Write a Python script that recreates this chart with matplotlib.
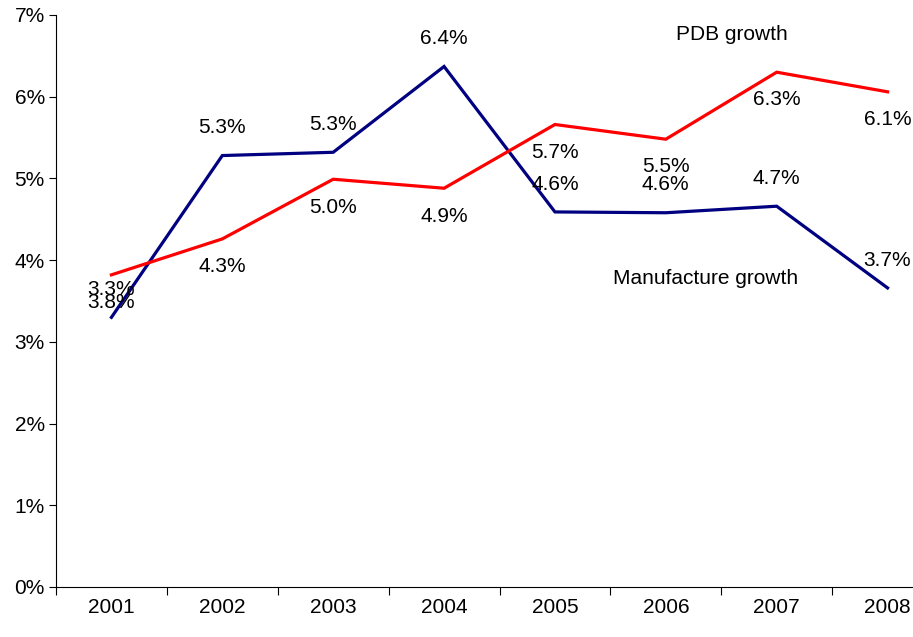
import numpy as np
import matplotlib.pyplot as plt
from matplotlib.ticker import FixedLocator, PercentFormatter

plt.rcParams['font.family'] = ['Liberation Sans', 'DejaVu Sans']

years = ['2001', '2002', '2003', '2004', '2005', '2006', '2007', '2008']
manufacture = [3.3, 5.28, 5.32, 6.37, 4.59, 4.58, 4.66, 3.66]
pdb = [3.82, 4.26, 4.99, 4.88, 5.66, 5.48, 6.30, 6.06]
manufacture_labels = ['3.3%', '5.3%', '5.3%', '6.4%', '4.6%', '4.6%', '4.7%', '3.7%']
pdb_labels = ['3.8%', '4.3%', '5.0%', '4.9%', '5.7%', '5.5%', '6.3%', '6.1%']

fs = 15

fig = plt.figure(figsize=(9.13, 6.37), dpi=100)
ax = fig.add_axes([56 / 913, 50 / 637, 887 / 913, 572 / 637])

x = np.arange(len(years))
ax.plot(x, manufacture, color='#000080', lw=2.3, solid_joinstyle='miter')
ax.plot(x, pdb, color='#ff0000', lw=2.3, solid_joinstyle='miter')

# value labels: manufacture above the line, PDB below
for xi, v, lab in zip(x, manufacture, manufacture_labels):
    ax.annotate(lab, (xi, v), xytext=(0, 20), textcoords='offset points',
                ha='center', va='center', fontsize=fs)
for xi, v, lab in zip(x, pdb, pdb_labels):
    ax.annotate(lab, (xi, v), xytext=(0, -20), textcoords='offset points',
                ha='center', va='center', fontsize=fs)

ax.text(5.6, 6.76, 'PDB growth', fontsize=fs, ha='center', va='center')
ax.text(5.36, 3.77, 'Manufacture growth', fontsize=fs, ha='center', va='center')

ax.set_xlim(-0.5, 7.5)
ax.set_ylim(0, 7)
ax.set_xticks(x)
ax.set_xticklabels(years, fontsize=fs)
ax.xaxis.set_minor_locator(FixedLocator(np.arange(-0.5, 8, 1)))
ax.tick_params(axis='x', which='major', length=0, pad=8)
ax.tick_params(axis='x', which='minor', length=6, direction='out', width=0.8)
ax.set_yticks(range(0, 8))
ax.yaxis.set_major_formatter(PercentFormatter(decimals=0))
ax.tick_params(axis='y', labelsize=fs, length=5, width=0.8, pad=3)

ax.spines['top'].set_visible(False)
ax.spines['right'].set_visible(False)
ax.spines['left'].set_linewidth(0.8)
ax.spines['bottom'].set_linewidth(0.8)

fig.savefig('out.png', dpi=100)
